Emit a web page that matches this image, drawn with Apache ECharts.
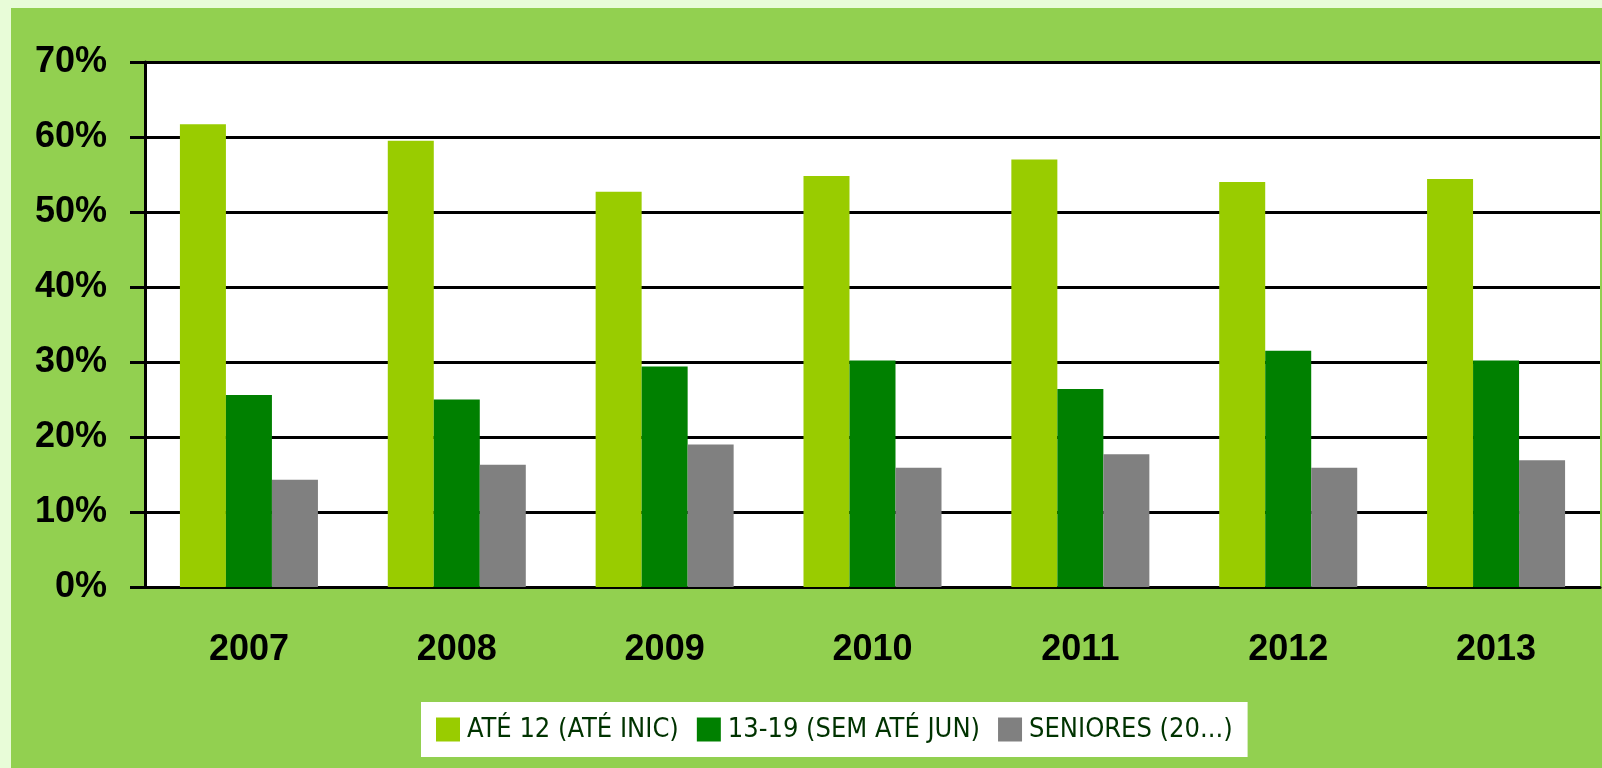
<!DOCTYPE html>
<html lang="pt">

<head>
    <meta charset="UTF-8">
    <title>Escalões</title>
    <style>
        html,
        body {
            margin: 0px;
            padding: 0px;
            width: 100%;
            height: 100%;
            background: #e8fcd8;
        }

        #echarts {
            position: absolute;
            left: 11px;
            top: 8px;
            right: 0px;
            bottom: 0px;
            background: #92d050;
        }
    </style>
</head>

<body>
    <div id="echarts"></div>
    <script src="https://cdn.jsdelivr.net/npm/echarts@6/dist/echarts.min.js"></script>
    <script>
        // anos
        var anos = ['2007', '2008', '2009', '2010', '2011', '2012', '2013'];
        // percentagens por escalão
        var ate12 = [61.7, 59.5, 52.7, 54.8, 57.0, 54.0, 54.4];
        var de13a19 = [25.6, 25.0, 29.4, 30.2, 26.4, 31.5, 30.2];
        var seniores = [14.3, 16.3, 19.0, 15.9, 17.7, 15.9, 16.9];
        var nomes = ['ATÉ 12 (ATÉ INIC)', '13-19 (SEM ATÉ JUN)', 'SENIORES (20...)'];

        var fonteNumeros = "'Liberation Sans', Arial, sans-serif";
        var fonteLegenda = "'Liberation Sans Narrow', 'DejaVu Sans Condensed', sans-serif";

        var myChart = echarts.init(document.getElementById('echarts'));

        myChart.setOption({
            animation: false,
            grid: {
                left: 134,
                top: 54,
                right: 2,
                bottom: 181,
                show: true,
                backgroundColor: '#ffffff',
                borderWidth: 0
            },
            legend: {
                left: 410,
                top: 694,
                backgroundColor: '#ffffff',
                padding: [14, 15, 14, 15],
                itemGap: 18,
                itemWidth: 24,
                itemHeight: 24,
                icon: 'rect',
                textStyle: {
                    fontFamily: fonteLegenda,
                    fontSize: 27,
                    color: '#003300',
                    padding: [0, 0, 0, 2]
                },
                data: nomes
            },
            xAxis: {
                type: 'category',
                data: anos,
                axisLine: { lineStyle: { color: '#000', width: 3 } },
                axisTick: { length: 14, lineStyle: { color: '#000', width: 3 } },
                axisLabel: {
                    margin: 45,
                    fontFamily: fonteNumeros,
                    fontWeight: 'bold',
                    fontSize: 36,
                    color: '#000'
                }
            },
            yAxis: {
                type: 'value',
                min: 0,
                max: 70,
                interval: 10,
                axisLine: { show: true, lineStyle: { color: '#000', width: 3 } },
                axisTick: { show: true, length: 15, lineStyle: { color: '#000', width: 3 } },
                splitLine: { lineStyle: { color: '#000', width: 3 } },
                axisLabel: {
                    margin: 38,
                    formatter: '{value}%',
                    fontFamily: fonteNumeros,
                    fontWeight: 'bold',
                    fontSize: 36,
                    color: '#000'
                }
            },
            series: [{
                name: nomes[0],
                type: 'bar',
                data: ate12,
                barGap: '0%',
                barCategoryGap: '33.6%',
                itemStyle: { color: '#99cc00' }
            }, {
                name: nomes[1],
                type: 'bar',
                data: de13a19,
                itemStyle: { color: '#008000' }
            }, {
                name: nomes[2],
                type: 'bar',
                data: seniores,
                itemStyle: { color: '#808080' }
            }]
        });

        window.addEventListener("resize", function () {
            myChart.resize();
        });
    </script>
</body>

</html>
